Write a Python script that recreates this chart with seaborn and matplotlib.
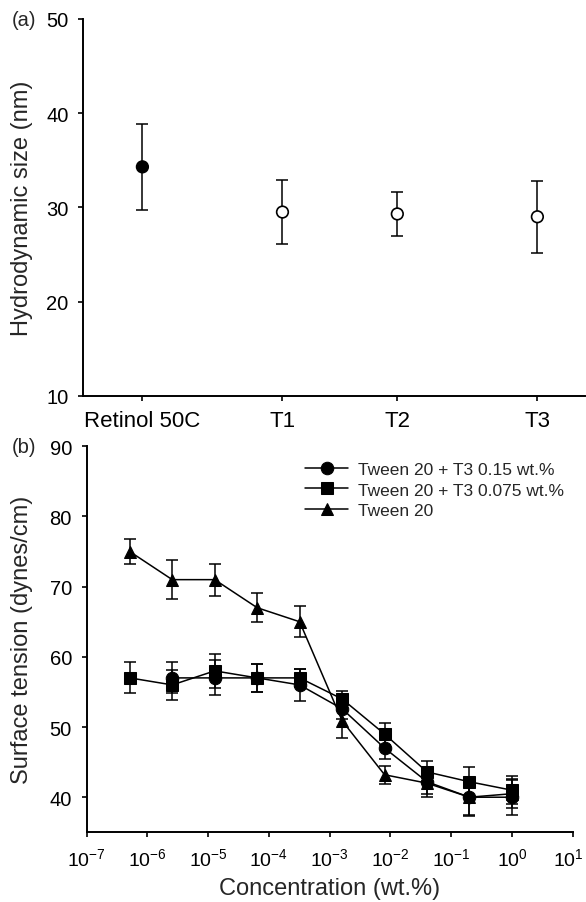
import numpy as np
import pandas as pd
import matplotlib
matplotlib.use("Agg")
import matplotlib.pyplot as plt
import matplotlib.transforms as mtransforms
import seaborn as sns

sns.set_theme(style="ticks")
plt.rcParams['font.family'] = ['Liberation Sans', 'DejaVu Sans']
plt.rcParams['mathtext.fontset'] = 'custom'
plt.rcParams['mathtext.rm'] = 'Liberation Sans'
plt.rcParams['mathtext.it'] = 'Liberation Sans:italic'

# panel (a) - hydrodynamic size
samples = ["Retinol 50C", "T1", "T2", "T3"]
sample_pos = [1.0, 2.0, 2.82, 3.82]
size_nm = [34.3, 29.5, 29.3, 29.0]
size_err = [4.6, 3.4, 2.3, 3.8]
size_filled = [True, False, False, False]

# panel (b) - surface tension vs concentration
conc = [5.12e-7, 2.56e-6, 1.28e-5, 6.4e-5, 3.2e-4, 1.6e-3, 8e-3, 0.04, 0.2, 1.0]
series_names = ["Tween 20 + T3 0.15 wt.%", "Tween 20 + T3 0.075 wt.%", "Tween 20"]
t3_015 = [np.nan, 57, 57, 57, 56, 52.6, 47, 42.2, 40, 40]
t3_015_err = [np.nan, 2.2, 2.5, 2.0, 2.3, 1.5, 1.6, 2.1, 2.7, 2.6]
t3_0075 = [57, 56, 58, 57, 57, 54, 49, 43.6, 42.2, 41]
t3_0075_err = [2.2, 2.1, 2.4, 2.0, 1.3, 1.2, 1.6, 1.6, 2.1, 2.0]
tween20 = [75, 71, 71, 67, 65, 50.9, 43.2, 42, 40, 40.5]
tween20_err = [1.8, 2.8, 2.3, 2.1, 2.2, 2.5, 1.3, 1.5, 2.5, 2.0]
decades = np.arange(-7, 2)

W, H = 586, 903
fig = plt.figure(figsize=(W / 100, H / 100), dpi=100)


def style_axes(ax):
    for s in ["top", "right"]:
        ax.spines[s].set_visible(False)
    for s in ["left", "bottom"]:
        ax.spines[s].set_linewidth(1.4)
        ax.spines[s].set_color("black")
    ax.tick_params(direction="out", length=3.6, width=1.2, color="black",
                   labelcolor="black", pad=6)
    ax.grid(False)


# ---------- (a)
ax1 = fig.add_axes([83.3 / W, 1 - 396.7 / H, (585 - 83.3) / W, (396.7 - 20) / H])
ax1.errorbar(sample_pos, size_nm, yerr=size_err, fmt="none", ecolor="black",
             elinewidth=1.1, capsize=4.5, capthick=1.1, zorder=2)
df_a = pd.DataFrame({"pos": sample_pos, "size": size_nm,
                     "kind": ["filled" if f else "open" for f in size_filled]})
sns.scatterplot(data=df_a, x="pos", y="size", hue="kind",
                palette={"filled": "black", "open": "white"},
                edgecolor="black", linewidth=1.2, s=70, legend=False, ax=ax1, zorder=3)
ax1.set_xlim(0.578, 4.16)
ax1.set_ylim(10, 50)
ax1.set_yticks([10, 20, 30, 40, 50])
ax1.set_xticks(sample_pos)
ax1.set_xticklabels(samples)
style_axes(ax1)
ax1.tick_params(axis="x", labelsize=16, pad=7)
ax1.tick_params(axis="y", labelsize=14.5, pad=7)
ax1.set_xlabel("")
ax1.set_ylabel("Hydrodynamic size (nm)", fontsize=17)
ax1.yaxis.set_label_coords(-0.10, 0.5)
fig.text(12 / W, 1 - 20 / H, "(a)", fontsize=14.5, va="center", ha="left")

# ---------- (b)
ax2 = fig.add_axes([86.7 / W, 1 - 833.3 / H, (572.7 - 86.7) / W, (833.3 - 447.3) / H])
values = [t3_015, t3_0075, tween20]
errors = [t3_015_err, t3_0075_err, tween20_err]
rows = []
for name, vals in zip(series_names, values):
    for c, v in zip(conc, vals):
        if not np.isnan(v):
            rows.append({"conc": c, "tension": v, "series": name})
df_b = pd.DataFrame(rows)

for vals, errs in zip(values, errors):
    ax2.errorbar(conc, vals, yerr=errs, fmt="none", ecolor="black",
                 elinewidth=1.1, capsize=4.5, capthick=1.1, zorder=2)

sns.lineplot(data=df_b, x="conc", y="tension", style="series",
             style_order=series_names, markers={series_names[0]: "o",
                                                series_names[1]: "s",
                                                series_names[2]: "^"},
             dashes=False, color="black", linewidth=1.1, markersize=9,
             markeredgecolor="black", ax=ax2, zorder=3)
ax2.set_xscale("log")
ax2.set_xlim(1e-7, 10)
ax2.set_ylim(35, 90)
ax2.set_yticks([40, 50, 60, 70, 80, 90])
ax2.set_xticks(10.0 ** decades)
ax2.set_xticklabels([rf"$10^{{{d}}}$" for d in decades])
ax2.xaxis.set_minor_locator(matplotlib.ticker.NullLocator())
style_axes(ax2)
ax2.tick_params(axis="x", labelsize=14, pad=7)
ax2.tick_params(axis="y", labelsize=14.5, pad=7)
# keep the last decade label inside the figure
last = ax2.get_xticklabels()[-1]
last.set_transform(last.get_transform() +
                   mtransforms.ScaledTranslation(-4 / 100, 0, fig.dpi_scale_trans))
ax2.set_xlabel("Concentration (wt.%)", fontsize=17)
ax2.xaxis.set_label_coords(0.5, -0.115)
ax2.set_ylabel("Surface tension (dynes/cm)", fontsize=17)
ax2.yaxis.set_label_coords(-0.11, 0.5)
fig.text(12 / W, 1 - 447.3 / H, "(b)", fontsize=14.5, va="center", ha="left")

handles, labels = ax2.get_legend_handles_labels()
ax2.legend(handles[-3:], labels[-3:], loc="upper left",
           bbox_to_anchor=(305 / W, 1 - 463 / H), bbox_transform=fig.transFigure,
           frameon=False, fontsize=12.5, handlelength=2.5, handletextpad=0.55,
           labelspacing=0.3, borderpad=0, borderaxespad=0)

fig.savefig("out.png", dpi=100)
